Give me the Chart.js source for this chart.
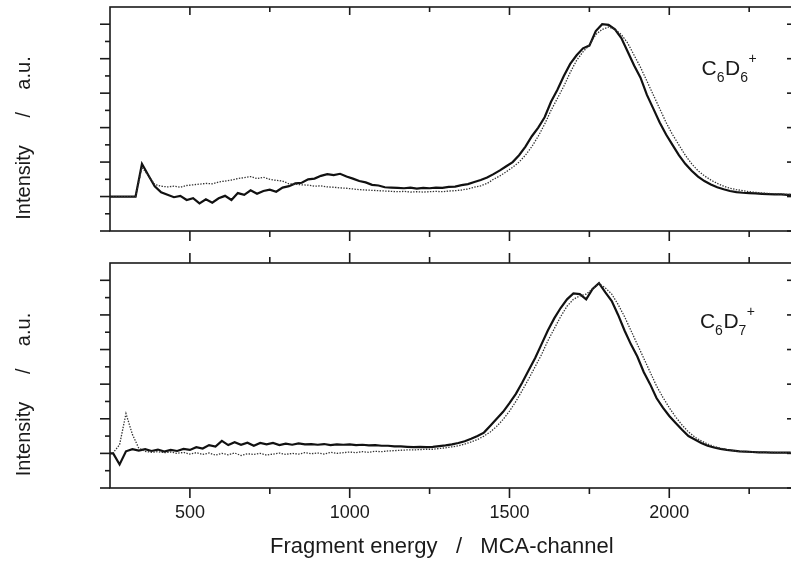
<!DOCTYPE html>
<html>
<head>
<meta charset="utf-8">
<script src="https://cdn.jsdelivr.net/npm/chart.js@4.4.1/dist/chart.umd.min.js"></script>
<style>
  html, body { margin: 0; padding: 0; background: #fff; overflow: hidden; }
  #wrap { position: relative; width: 791px; height: 561px; overflow: hidden; }
  canvas { position: absolute; left: 0; }
  #top { top: 0; }
  #bottom { top: 250px; }
</style>
</head>
<body>
<div id="wrap">
  <canvas id="top" width="800" height="250"></canvas>
  <canvas id="bottom" width="800" height="311"></canvas>
</div>
<script>
// channel grids (MCA channels sampled every 20)
const topChannels = Array.from({ length: 108 }, (_, i) => 250 + 20 * i);
const bottomChannels = Array.from({ length: 108 }, (_, i) => 240 + 20 * i);

// C6D6+ panel
const c6d6Solid = [
  0, 0, 0, 0, 0, 0.95, 0.62, 0.3, 0.12, 0.05,
  -0.02, 0.02, -0.1, -0.05, -0.2, -0.08, -0.18, -0.05, 0.02, -0.1,
  0.1, 0.05, 0.18, 0.08, 0.16, 0.2, 0.14, 0.26, 0.3, 0.38,
  0.4, 0.5, 0.52, 0.6, 0.65, 0.62, 0.66, 0.58, 0.52, 0.45,
  0.41, 0.34, 0.32, 0.27, 0.26, 0.25, 0.24, 0.26, 0.23, 0.25,
  0.24, 0.26, 0.25, 0.28, 0.29, 0.33, 0.36, 0.42, 0.48, 0.55,
  0.65, 0.76, 0.88, 1.0, 1.2, 1.45, 1.75, 2.0, 2.3, 2.75,
  3.1, 3.5, 3.85, 4.1, 4.3, 4.38, 4.8, 5.0, 4.98, 4.85,
  4.6, 4.2, 3.8, 3.45, 2.95, 2.55, 2.15, 1.8, 1.5, 1.2,
  0.95, 0.75, 0.58, 0.45, 0.35, 0.27, 0.21, 0.16, 0.13, 0.11,
  0.1, 0.09, 0.08, 0.07, 0.06, 0.06, 0.05, 0.05
];
const c6d6Dotted = [
  0, 0, 0, 0, 0, 0.85, 0.6, 0.35, 0.3, 0.28,
  0.3, 0.27, 0.32, 0.34, 0.36, 0.38, 0.37, 0.42, 0.45, 0.48,
  0.52, 0.55, 0.58, 0.52, 0.56, 0.5, 0.47, 0.45, 0.37, 0.36,
  0.34, 0.33, 0.3, 0.31, 0.28, 0.27, 0.25, 0.24, 0.22, 0.2,
  0.19, 0.18, 0.17, 0.16, 0.15, 0.14, 0.15, 0.13, 0.14, 0.13,
  0.14, 0.15, 0.14, 0.16, 0.17, 0.19, 0.22, 0.27, 0.31, 0.38,
  0.5, 0.6, 0.72, 0.85, 1.0, 1.2, 1.45, 1.75, 2.1, 2.5,
  2.85, 3.2, 3.6, 3.95, 4.2, 4.4, 4.7, 4.85, 4.92, 4.85,
  4.7, 4.45, 4.1, 3.75, 3.35, 2.95, 2.55, 2.15, 1.8, 1.5,
  1.2, 0.95, 0.75, 0.6, 0.48, 0.38, 0.3, 0.24, 0.2, 0.17,
  0.14, 0.12, 0.1, 0.09, 0.08, 0.07, 0.06, 0.06
];

// C6D7+ panel
const c6d7Solid = [
  0, 0, -0.32, 0.06, 0.12, 0.08, 0.12, 0.07, 0.11, 0.05,
  0.1, 0.07, 0.13, 0.1, 0.18, 0.14, 0.24, 0.2, 0.36, 0.24,
  0.32, 0.25, 0.31, 0.22, 0.3, 0.26, 0.3, 0.24, 0.28, 0.25,
  0.29, 0.26, 0.27, 0.25, 0.27, 0.24, 0.26, 0.25, 0.26, 0.24,
  0.25, 0.23, 0.24, 0.22, 0.22, 0.2, 0.2, 0.19, 0.18, 0.19,
  0.18, 0.19, 0.21, 0.23, 0.26, 0.3, 0.35, 0.42, 0.5, 0.6,
  0.8, 1.0, 1.2, 1.45, 1.72, 2.05, 2.4, 2.75, 3.15, 3.55,
  3.9, 4.2, 4.45, 4.62, 4.6, 4.45, 4.75, 4.92, 4.65, 4.4,
  4.0, 3.55, 3.15, 2.8, 2.35, 2.0, 1.6, 1.32, 1.08, 0.88,
  0.68, 0.5, 0.4, 0.3, 0.22, 0.17, 0.13, 0.1, 0.08, 0.06,
  0.05, 0.04, 0.03, 0.03, 0.02, 0.02, 0.02, 0.02
];
const c6d7Dotted = [
  0, 0.02, 0.25, 1.15, 0.55, 0.15, 0.06, 0.03, 0.05, 0.02,
  0.04, 0.0, 0.03, -0.02, 0.02, -0.03, 0.01, -0.05, 0.0, -0.04,
  0.01, -0.06, -0.01, -0.03, 0.0, -0.05, -0.02, 0.01, -0.03, 0.0,
  -0.02, 0.02, -0.01, 0.01, -0.02, 0.03, 0.0, 0.02, 0.04, 0.02,
  0.05, 0.03, 0.06, 0.05, 0.07, 0.08, 0.09, 0.1, 0.1, 0.11,
  0.12, 0.12, 0.14, 0.16, 0.19, 0.22, 0.27, 0.33, 0.4, 0.5,
  0.62, 0.78, 0.98, 1.22, 1.5, 1.82, 2.15, 2.5, 2.85, 3.25,
  3.6, 3.95, 4.25, 4.45, 4.55, 4.6, 4.75, 4.9, 4.78, 4.6,
  4.3, 3.95, 3.55, 3.15, 2.75, 2.35, 1.95, 1.62, 1.32, 1.05,
  0.82, 0.62, 0.47, 0.36, 0.27, 0.2, 0.15, 0.11, 0.08, 0.06,
  0.05, 0.04, 0.03, 0.03, 0.03, 0.02, 0.02, 0.02
];

const xMajorTicks = [500, 1000, 1500, 2000];
const xMinorTicks = [750, 1250, 1750, 2250];
const yMajorTicks = [-1, 0, 1, 2, 3, 4, 5];
const yMinorTicks = [-0.5, 0.5, 1.5, 2.5, 3.5, 4.5];

// trailing spaces pull the centred title slightly left, like the original
const xTitle = 'Fragment energy   /   MCA-channel   ';
const yTitle = 'Intensity     /    a.u.';
const c6d6Label = [['C', 'main'], ['6', 'sub'], ['D', 'main'], ['6', 'sub'], ['+', 'sup']];
const c6d7Label = [['C', 'main'], ['6', 'sub'], ['D', 'main'], ['7', 'sub'], ['+', 'sup']];

const FONT = '"Liberation Sans", Arial, Helvetica, sans-serif';
const INK = '#1a1a1a';

// box, tick marks and panel texts
const framePlugin = {
  id: 'frame',
  afterDatasetsDraw(chart, args, opts) {
    const { ctx, chartArea: a, scales: { x, y } } = chart;
    ctx.save();
    ctx.strokeStyle = INK;
    ctx.lineWidth = 1.6;
    ctx.strokeRect(a.left, a.top, a.right - a.left, a.bottom - a.top);

    const line = (x1, y1, x2, y2) => {
      ctx.beginPath();
      ctx.moveTo(x1, y1);
      ctx.lineTo(x2, y2);
      ctx.stroke();
    };
    const topDir = opts.topTicks === 'in' ? 1 : -1;
    const topLen = opts.topTicks === 'in' ? [8, 5] : [10, 6];

    xMajorTicks.forEach(v => {
      const px = x.getPixelForValue(v);
      line(px, a.bottom, px, a.bottom + 10);
      line(px, a.top, px, a.top + topDir * topLen[0]);
    });
    xMinorTicks.forEach(v => {
      const px = x.getPixelForValue(v);
      line(px, a.bottom, px, a.bottom + 6);
      line(px, a.top, px, a.top + topDir * topLen[1]);
    });
    yMajorTicks.forEach(v => {
      const py = y.getPixelForValue(v);
      line(a.left - 10, py, a.left, py);
      line(a.right - 5, py, a.right, py);
    });
    yMinorTicks.forEach(v => {
      const py = y.getPixelForValue(v);
      line(a.left - 5, py, a.left, py);
    });
    ctx.restore();
  },
  afterDraw(chart, args, opts) {
    const { ctx, chartArea: a, scales: { x, y } } = chart;
    ctx.save();
    ctx.fillStyle = INK;

    // y title, sits a little below the middle of the box
    ctx.translate(24, (a.top + a.bottom) / 2 + opts.titleShift);
    ctx.rotate(-Math.PI / 2);
    ctx.font = '20px ' + FONT;
    ctx.textAlign = 'center';
    ctx.textBaseline = 'middle';
    ctx.fillText(yTitle, 0, 0);
    ctx.setTransform(1, 0, 0, 1, 0, 0);

    // species label, e.g. C6D6+
    let px = x.getPixelForValue(opts.labelAt[0]);
    const base = y.getPixelForValue(opts.labelAt[1]);
    ctx.textAlign = 'left';
    ctx.textBaseline = 'alphabetic';
    opts.label.forEach(([t, kind]) => {
      const size = kind === 'main' ? 21 : 14;
      const dy = kind === 'sub' ? 7 : kind === 'sup' ? -12 : 0;
      ctx.font = size + 'px ' + FONT;
      ctx.fillText(t, px, base + dy);
      px += ctx.measureText(t).width + (kind === 'sub' ? 0.5 : 0);
    });
    ctx.restore();
  }
};

function series(channels, values, dotted) {
  return {
    data: channels.map((c, i) => ({ x: c, y: values[i] })),
    borderColor: dotted ? '#333' : '#111',
    borderWidth: dotted ? 1.3 : 2.2,
    borderDash: dotted ? [1.4, 1.4] : [],
    pointRadius: 0,
    tension: 0
  };
}

const xRange = { min: 250, max: 2384 };
const yRange = { min: -1, max: 5.5 };

new Chart(document.getElementById('top'), {
  type: 'line',
  data: {
    datasets: [
      series(topChannels, c6d6Dotted, true),
      series(topChannels, c6d6Solid, false)
    ]
  },
  options: {
    responsive: false,
    animation: false,
    layout: { padding: { left: 110, top: 7, right: 8, bottom: 19 } },
    plugins: {
      legend: { display: false },
      tooltip: { enabled: false },
      frame: { topTicks: 'in', titleShift: 19, label: c6d6Label, labelAt: [2101, 3.54] }
    },
    scales: {
      x: { type: 'linear', ...xRange, display: false },
      y: { type: 'linear', ...yRange, display: false }
    }
  },
  plugins: [framePlugin]
});

new Chart(document.getElementById('bottom'), {
  type: 'line',
  data: {
    datasets: [
      series(bottomChannels, c6d7Dotted, true),
      series(bottomChannels, c6d7Solid, false)
    ]
  },
  options: {
    responsive: false,
    animation: false,
    layout: { padding: { left: 110, top: 13, right: 8, bottom: 0 } },
    plugins: {
      legend: { display: false },
      tooltip: { enabled: false },
      frame: { topTicks: 'out', titleShift: 19, label: c6d7Label, labelAt: [2096, 3.61] }
    },
    scales: {
      x: {
        type: 'linear',
        ...xRange,
        afterBuildTicks: s => { s.ticks = xMajorTicks.map(v => ({ value: v })); },
        afterFit: s => { s.height = 73; },
        grid: { display: false, drawTicks: false },
        border: { display: false },
        ticks: {
          font: { family: FONT, size: 18 }, color: INK, padding: 14,
          maxRotation: 0, autoSkip: false,
          callback: v => String(v)
        },
        title: { display: true, text: xTitle, font: { family: FONT, size: 22 }, color: INK, padding: { top: 0, bottom: 1 } }
      },
      y: { type: 'linear', ...yRange, display: false }
    }
  },
  plugins: [framePlugin]
});
</script>
</body>
</html>
